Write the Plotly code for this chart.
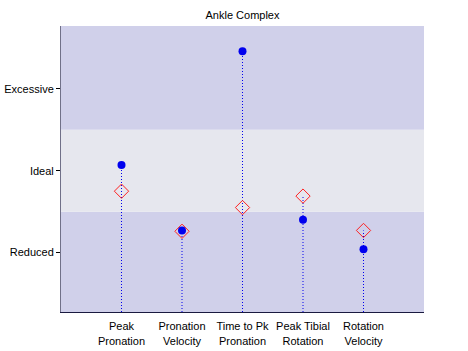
import plotly.graph_objects as go

categories = ["Peak<br>Pronation", "Pronation<br>Velocity", "Time to Pk<br>Pronation",
              "Peak Tibial<br>Rotation", "Rotation<br>Velocity"]
positions = [1, 2, 3, 4, 5]
actual = [2.07, 1.27, 3.46, 1.40, 1.04]
target = [1.75, 1.26, 1.55, 1.69, 1.27]
level_vals = [1, 2, 3]
level_text = ["Reduced", "Ideal", "Excessive"]

y_min, y_max = 0.274, 3.768
font = dict(family="Liberation Sans, Arial, sans-serif", size=11, color="#000000")

fig = go.Figure()

# stems
sx, sy = [], []
for p, a, t in zip(positions, actual, target):
    sx += [p, p, None]
    sy += [y_min, max(a, t), None]
fig.add_trace(go.Scatter(x=sx, y=sy, mode="lines",
                         line=dict(color="#0000ee", width=1, dash="1px,2px"),
                         hoverinfo="skip", showlegend=False))
fig.add_trace(go.Scatter(x=positions, y=target, mode="markers",
                         marker=dict(symbol="diamond-open", size=11, color="#ff2020",
                                     line=dict(width=1, color="#ff2020")),
                         showlegend=False))
fig.add_trace(go.Scatter(x=positions, y=actual, mode="markers",
                         marker=dict(symbol="circle", size=8, color="#0000ee",
                                     line=dict(width=0)),
                         showlegend=False))

bands = [(y_min, 1.5, "#d0d0ea"), (1.5, 2.5, "#e6e7ee"), (2.5, y_max, "#d0d0ea")]
for y0, y1, c in bands:
    fig.add_shape(type="rect", xref="paper", yref="y", x0=0, x1=1, y0=y0, y1=y1,
                  fillcolor=c, line=dict(width=0), layer="below")

fig.update_layout(
    width=468, height=351,
    margin=dict(l=61, r=44, t=26, b=39, autoexpand=False),
    paper_bgcolor="white", plot_bgcolor="white",
    font=font,
    title=dict(text="Ankle Complex", x=(61 + 424) / 2 / 468, xanchor="center",
               y=1 - 15 / 351, yanchor="middle", font=font, automargin=False),
    showlegend=False,
)
fig.update_xaxes(range=[0, 6], tickmode="array", tickvals=positions, ticktext=categories,
                 showgrid=False, zeroline=False, showline=True, linecolor="#1a1a40",
                 linewidth=1, ticks="", tickfont=font, automargin=False,
                 ticklabelstandoff=4)
fig.update_yaxes(range=[y_min, y_max], tickmode="array", tickvals=level_vals,
                 ticktext=level_text, showgrid=False, zeroline=False, showline=True,
                 linecolor="#707088", linewidth=1, ticks="outside", ticklen=4,
                 tickcolor="#000000", tickfont=font, automargin=False)

fig.write_html("out.html")
